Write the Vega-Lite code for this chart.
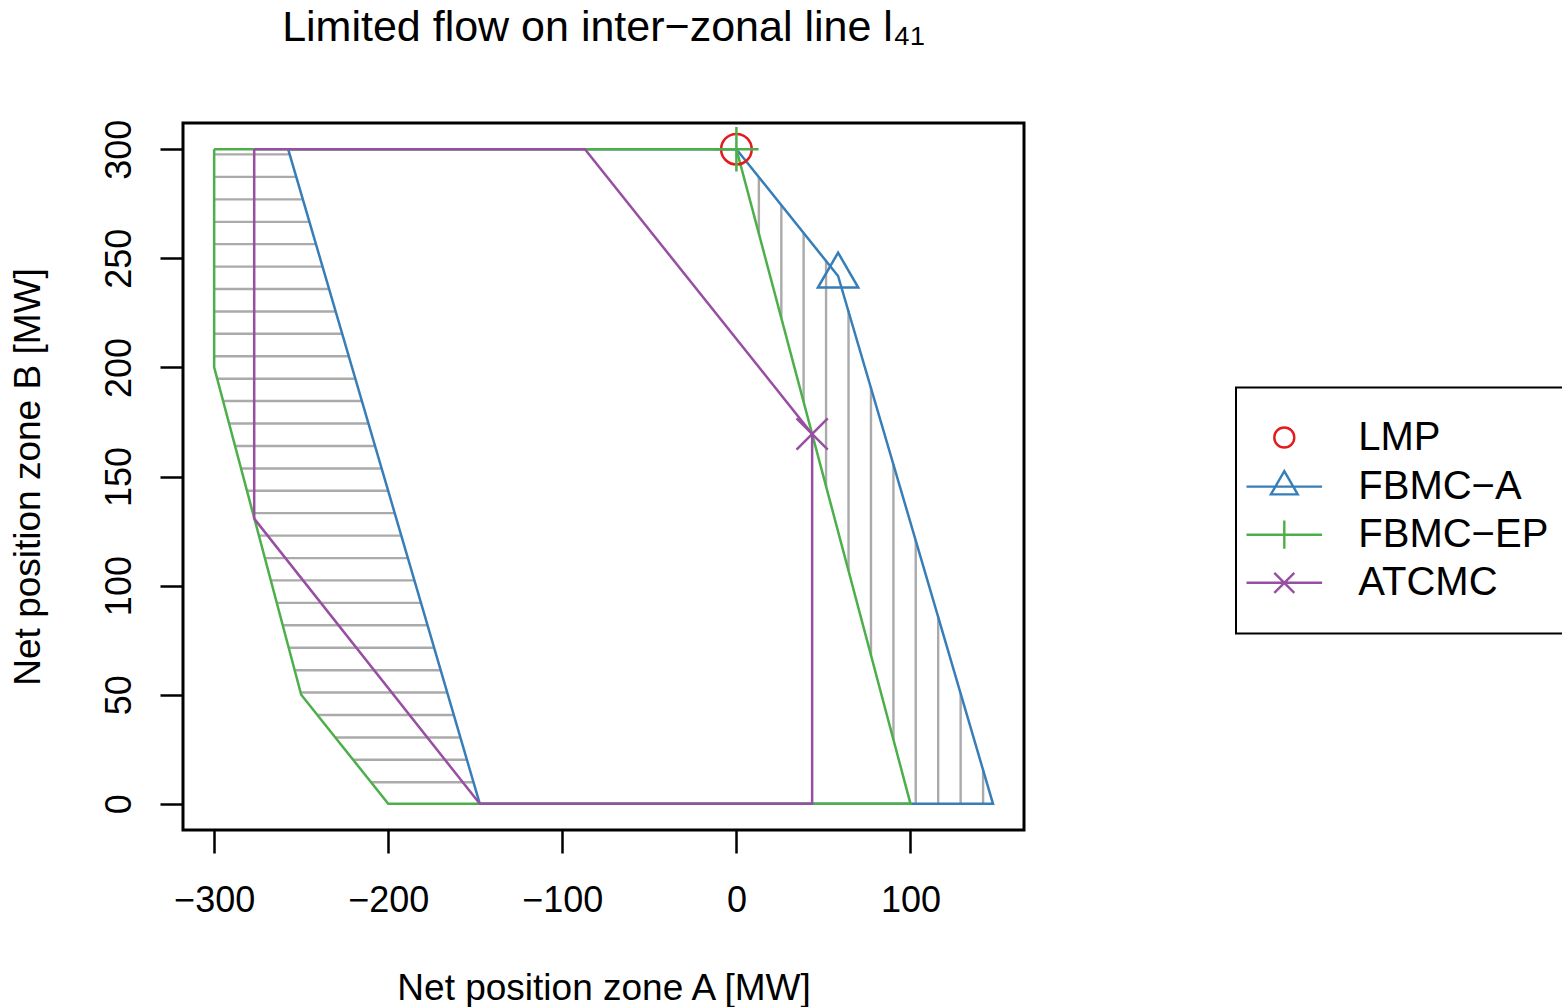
{
  "$schema": "https://vega.github.io/schema/vega-lite/v6.json",
  "width": 841,
  "height": 707,
  "autosize": {"type": "none"},
  "padding": {"left": 183, "top": 123, "right": 538, "bottom": 177},
  "background": "white",
  "title": {
    "text": "Limited flow on inter−zonal line l₄₁",
    "fontSize": 43,
    "fontWeight": "normal",
    "font": "Liberation Sans",
    "color": "black",
    "anchor": "middle",
    "frame": "group",
    "baseline": "alphabetic",
    "offset": 35
  },
  "datasets": {
    "hatchH": [
      {"y": 297.6, "x": -300, "x2": -256.6},
      {"y": 287.3, "x": -300, "x2": -252.8},
      {"y": 277.0, "x": -300, "x2": -249.1},
      {"y": 266.7, "x": -300, "x2": -245.3},
      {"y": 256.5, "x": -300, "x2": -241.5},
      {"y": 246.2, "x": -300, "x2": -237.8},
      {"y": 235.9, "x": -300, "x2": -234.0},
      {"y": 225.6, "x": -300, "x2": -230.2},
      {"y": 215.4, "x": -300, "x2": -226.5},
      {"y": 205.1, "x": -300, "x2": -222.7},
      {"y": 194.8, "x": -298.3, "x2": -218.9},
      {"y": 184.6, "x": -294.9, "x2": -215.1},
      {"y": 174.3, "x": -291.4, "x2": -211.4},
      {"y": 164.0, "x": -288.0, "x2": -207.6},
      {"y": 153.7, "x": -284.6, "x2": -203.8},
      {"y": 143.5, "x": -281.2, "x2": -200.1},
      {"y": 133.2, "x": -277.7, "x2": -196.3},
      {"y": 122.9, "x": -274.3, "x2": -192.5},
      {"y": 112.6, "x": -270.9, "x2": -188.7},
      {"y": 102.4, "x": -267.5, "x2": -185.0},
      {"y": 92.1, "x": -264.0, "x2": -181.2},
      {"y": 81.8, "x": -260.6, "x2": -177.4},
      {"y": 71.5, "x": -257.2, "x2": -173.6},
      {"y": 61.2, "x": -253.7, "x2": -169.9},
      {"y": 51.0, "x": -250.3, "x2": -166.1},
      {"y": 40.7, "x": -240.7, "x2": -162.3},
      {"y": 30.4, "x": -230.4, "x2": -158.6},
      {"y": 20.2, "x": -220.2, "x2": -154.8},
      {"y": 9.9, "x": -209.9, "x2": -151.0}
    ],
    "hatchV": [
      {"x": 12.9, "y": 261.3, "y2": 287.2},
      {"x": 25.8, "y": 222.6, "y2": 274.3},
      {"x": 38.6, "y": 184.2, "y2": 261.6},
      {"x": 51.5, "y": 145.5, "y2": 248.8},
      {"x": 64.4, "y": 106.8, "y2": 226.2},
      {"x": 77.3, "y": 68.1, "y2": 191.0},
      {"x": 90.2, "y": 29.4, "y2": 155.9},
      {"x": 103.0, "y": 0, "y2": 121.0},
      {"x": 115.9, "y": 0, "y2": 85.8},
      {"x": 128.8, "y": 0, "y2": 50.7},
      {"x": 141.7, "y": 0, "y2": 15.5}
    ],
    "boundaries": [
      {"series": "FBMC−A", "order": 1, "x": 0, "y": 300},
      {"series": "FBMC−A", "order": 2, "x": 58.4, "y": 241.9},
      {"series": "FBMC−A", "order": 3, "x": 147.4, "y": 0},
      {"series": "FBMC−A", "order": 4, "x": -147.4, "y": 0},
      {"series": "FBMC−A", "order": 5, "x": -257.5, "y": 300},
      {"series": "FBMC−A", "order": 6, "x": 0, "y": 300},
      {"series": "FBMC−EP", "order": 1, "x": -300, "y": 300},
      {"series": "FBMC−EP", "order": 2, "x": -300, "y": 200},
      {"series": "FBMC−EP", "order": 3, "x": -250, "y": 50},
      {"series": "FBMC−EP", "order": 4, "x": -200, "y": 0},
      {"series": "FBMC−EP", "order": 5, "x": 100, "y": 0},
      {"series": "FBMC−EP", "order": 6, "x": 0, "y": 300},
      {"series": "FBMC−EP", "order": 7, "x": -300, "y": 300},
      {"series": "ATCMC", "order": 1, "x": -277, "y": 300},
      {"series": "ATCMC", "order": 2, "x": -277, "y": 130.7},
      {"series": "ATCMC", "order": 3, "x": -147.4, "y": 0},
      {"series": "ATCMC", "order": 4, "x": 43.5, "y": 0},
      {"series": "ATCMC", "order": 5, "x": 43.5, "y": 169.5},
      {"series": "ATCMC", "order": 6, "x": -87, "y": 300},
      {"series": "ATCMC", "order": 7, "x": -277, "y": 300}
    ],
    "markers": [
      {"series": "LMP", "x": 0, "y": 300},
      {"series": "FBMC−A", "x": 58.4, "y": 241.9},
      {"series": "FBMC−EP", "x": 0, "y": 300},
      {"series": "ATCMC", "x": 43.5, "y": 169.5}
    ]
  },
  "config": {
    "font": "Liberation Sans",
    "view": {"stroke": "black", "strokeWidth": 3},
    "axis": {
      "grid": false,
      "domain": false,
      "tickColor": "black",
      "tickWidth": 2.5,
      "tickSize": 23,
      "labelFont": "Liberation Sans",
      "labelFontSize": 36,
      "labelColor": "black",
      "labelFlush": false,
      "labelOverlap": false,
      "titleFont": "Liberation Sans",
      "titleFontSize": 37,
      "titleFontWeight": "normal",
      "titleColor": "black"
    },
    "legend": {
      "strokeColor": "black",
      "strokeWidth": 2,
      "fillColor": "white",
      "padding": 30,
      "labelFont": "Liberation Sans",
      "labelFontSize": 40,
      "labelColor": "black",
      "labelLimit": 600
    }
  },
  "encoding": {
    "x": {
      "field": "x", "type": "quantitative",
      "scale": {"domain": [-317.9, 165.2], "nice": false, "zero": false},
      "axis": {
        "title": "Net position zone A [MW]",
        "values": [-300, -200, -100, 0, 100],
        "labelBaseline": "alphabetic",
        "labelPadding": 58,
        "titleBaseline": "alphabetic",
        "titlePadding": 81
      }
    },
    "y": {
      "field": "y", "type": "quantitative",
      "scale": {"domain": [-12, 312], "nice": false, "zero": false},
      "axis": {
        "title": "Net position zone B [MW]",
        "values": [0, 50, 100, 150, 200, 250, 300],
        "labelAngle": -90,
        "labelAlign": "center",
        "labelBaseline": "alphabetic",
        "labelPadding": 30,
        "titleBaseline": "alphabetic",
        "titlePadding": 62
      }
    }
  },
  "layer": [
    {
      "data": {"name": "hatchH"},
      "mark": {"type": "rule", "color": "#aaaaaa", "strokeWidth": 2.4},
      "encoding": {"x2": {"field": "x2"}}
    },
    {
      "data": {"name": "hatchV"},
      "mark": {"type": "rule", "color": "#aaaaaa", "strokeWidth": 2.4},
      "encoding": {"y2": {"field": "y2"}}
    },
    {
      "data": {"name": "boundaries"},
      "transform": [{"filter": "datum.series === 'FBMC−A'"}],
      "mark": {"type": "line", "color": "#377EB8", "strokeWidth": 2.5},
      "encoding": {"order": {"field": "order", "type": "quantitative"}}
    },
    {
      "data": {"name": "boundaries"},
      "transform": [{"filter": "datum.series === 'FBMC−EP'"}],
      "mark": {"type": "line", "color": "#4DAF4A", "strokeWidth": 2.5},
      "encoding": {"order": {"field": "order", "type": "quantitative"}}
    },
    {
      "data": {"name": "boundaries"},
      "transform": [{"filter": "datum.series === 'ATCMC'"}],
      "mark": {"type": "line", "color": "#984EA3", "strokeWidth": 2.5},
      "encoding": {"order": {"field": "order", "type": "quantitative"}}
    },
    {
      "data": {"name": "markers"},
      "transform": [{"filter": "datum.series === 'LMP'"}],
      "mark": {"type": "point", "shape": "circle", "filled": false, "color": "#E41A1C", "strokeWidth": 2.5, "size": 936, "opacity": 1}
    },
    {
      "data": {"name": "markers"},
      "transform": [{"filter": "datum.series === 'FBMC−A'"}],
      "mark": {"type": "point", "shape": "M0,-1L0.866,0.5L-0.866,0.5Z", "filled": false, "color": "#377EB8", "strokeWidth": 2.5, "size": 2172, "opacity": 1}
    },
    {
      "data": {"name": "markers"},
      "transform": [{"filter": "datum.series === 'FBMC−EP'"}],
      "mark": {"type": "point", "shape": "M-1,0L1,0M0,-1L0,1", "filled": false, "color": "#4DAF4A", "strokeWidth": 2.5, "size": 1971, "opacity": 1}
    },
    {
      "data": {"name": "markers"},
      "transform": [{"filter": "datum.series === 'ATCMC'"}],
      "mark": {"type": "point", "shape": "M-1,-1L1,1M-1,1L1,-1", "filled": false, "color": "#984EA3", "strokeWidth": 2.5, "size": 973, "opacity": 1}
    },
    {
      "data": {"name": "markers"},
      "mark": {"type": "point", "filled": false, "opacity": 0, "size": 400, "strokeWidth": 2.4},
      "encoding": {
        "color": {
          "field": "series", "type": "nominal",
          "scale": {"domain": ["LMP", "FBMC−A", "FBMC−EP", "ATCMC"], "range": ["#E41A1C", "#377EB8", "#4DAF4A", "#984EA3"]},
          "legend": {"title": null, "orient": "none", "legendX": 1053, "legendY": 264.5, "symbolOpacity": 1, "symbolStrokeWidth": 2.4, "symbolSize": 400, "symbolOffset": -1.7, "labelOffset": 54, "rowPadding": 8.1, "padding": 30}
        },
        "shape": {
          "field": "series", "type": "nominal",
          "scale": {"domain": ["LMP", "FBMC−A", "FBMC−EP", "ATCMC"], "range": ["M1,0A1,1,0,1,1,-1,0A1,1,0,1,1,1,0Z", "M-3.78,0L3.78,0M0,-1.55L1.342,0.775L-1.342,0.775Z", "M-3.78,0L3.78,0M0,-1.41L0,1.41", "M-3.78,0L3.78,0M-1,-1L1,1M-1,1L1,-1"]},
          "legend": {"title": null, "orient": "none", "legendX": 1053, "legendY": 264.5, "symbolOpacity": 1, "symbolStrokeWidth": 2.4, "symbolSize": 400, "symbolOffset": -1.7, "labelOffset": 54, "rowPadding": 8.1, "padding": 30}
        }
      }
    }
  ]
}
